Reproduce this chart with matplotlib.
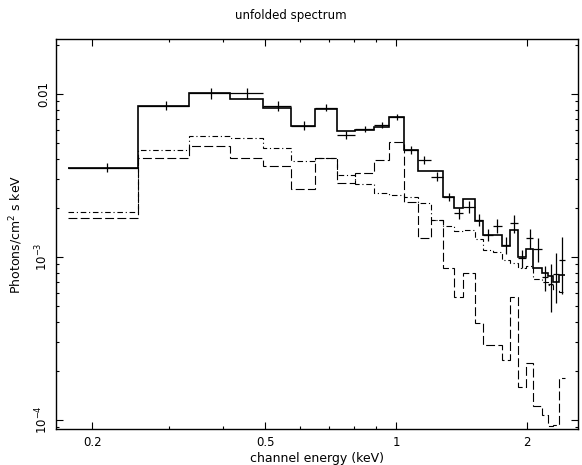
import numpy as np
import matplotlib
matplotlib.use("Agg")
import matplotlib.pyplot as plt
from matplotlib.ticker import NullFormatter, LogLocator

# channel bin edges (keV)
edges = [0.1762, 0.2552, 0.3343, 0.4153, 0.4945, 0.5736, 0.6512, 0.7306,
         0.8050, 0.8901, 0.9636, 1.0433, 1.1217, 1.2015, 1.2845, 1.3594,
         1.4279, 1.5190, 1.5873, 1.6665, 1.7498, 1.8284, 1.9102, 1.9900,
         2.0687, 2.1627, 2.2362, 2.2961, 2.3703, 2.4468]

# unfolded data (photons/cm^2/s/keV) and 1-sigma errors
data = [3.53e-3, 8.48e-3, 1.007e-2, 1.007e-2, 8.44e-3, 6.39e-3, 8.24e-3,
        5.60e-3, 6.10e-3, 6.45e-3, 7.20e-3, 4.53e-3, 3.94e-3, 3.11e-3,
        2.34e-3, 1.853e-3, 2.035e-3, 1.687e-3, 1.365e-3, 1.556e-3,
        1.185e-3, 1.609e-3, 9.82e-4, 1.302e-3, 1.12e-3, 7.5e-4, 6.8e-4,
        7.9e-4, 9.6e-4]
err = [0.22e-3, 0.5e-3, 0.78e-3, 0.8e-3, 0.55e-3, 0.38e-3, 0.44e-3,
       0.3e-3, 0.26e-3, 0.3e-3, 0.28e-3, 0.25e-3, 0.2e-3, 0.2e-3,
       0.14e-3, 0.145e-3, 0.17e-3, 0.15e-3, 0.11e-3, 0.145e-3,
       0.14e-3, 0.2e-3, 1.25e-4, 0.18e-3, 0.19e-3, 1.3e-4, 2.2e-4,
       2.7e-4, 3.7e-4]

# total model
model = [3.531e-3, 8.48e-3, 1.018e-2, 9.28e-3, 8.24e-3, 6.39e-3, 8.09e-3,
         5.93e-3, 6.01e-3, 6.30e-3, 7.26e-3, 4.53e-3, 3.37e-3, 3.37e-3,
         2.34e-3, 1.99e-3, 2.26e-3, 1.67e-3, 1.365e-3, 1.365e-3,
         1.168e-3, 1.464e-3, 9.96e-4, 1.115e-3, 8.52e-4, 7.94e-4, 7.64e-4,
         7.06e-4, 7.75e-4]

# thermal component (long dashes)
comp_a = [1.742e-3, 4.05e-3, 4.80e-3, 4.03e-3, 3.63e-3, 2.60e-3, 4.03e-3,
          2.86e-3, 3.28e-3, 3.94e-3, 5.10e-3, 2.18e-3, 1.30e-3, 1.687e-3,
          8.52e-4, 5.71e-4, 7.94e-4, 3.92e-4, 2.88e-4, 2.88e-4,
          2.33e-4, 5.71e-4, 1.60e-4, 2.23e-4, 1.21e-4, 1.07e-4, 9.2e-5,
          9.3e-5, 1.82e-4]

# power-law component (dash-dot)
comp_b = [1.896e-3, 4.53e-3, 5.55e-3, 5.35e-3, 4.64e-3, 3.90e-3, 4.05e-3,
          3.18e-3, 2.80e-3, 2.48e-3, 2.40e-3, 2.33e-3, 2.15e-3, 1.687e-3,
          1.55e-3, 1.44e-3, 1.464e-3, 1.29e-3, 1.104e-3, 1.073e-3,
          9.58e-4, 9.19e-4, 8.56e-4, 8.81e-4, 7.33e-4, 7.03e-4, 6.73e-4,
          6.27e-4, 6.10e-4]

edges = np.array(edges)
lo, hi = edges[:-1], edges[1:]
centers = (lo + hi) / 2

plt.rcParams['font.family'] = ['DejaVu Sans']
fig = plt.figure(figsize=(5.82, 4.65), dpi=100)
ax = fig.add_axes([0.0962, 0.0774, 0.8970, 0.8387])

ax.stairs(comp_a, edges, baseline=None, color='k', lw=0.8,
          linestyle=(0, (8, 3)))
ax.stairs(comp_b, edges, baseline=None, color='k', lw=0.8,
          linestyle=(0, (5, 2.5, 1, 2.5)))
ax.stairs(model, edges, baseline=None, color='k', lw=1.2)
ax.errorbar(centers, data, xerr=[centers - lo, hi - centers], yerr=err,
            fmt='none', ecolor='k', elinewidth=0.9, capsize=0)

ax.set_xscale('log')
ax.set_yscale('log')
ax.set_xlim(0.165, 2.62)
ax.set_ylim(8.8e-5, 0.0217)

ax.set_xticks([0.2, 0.5, 1, 2], ['0.2', '0.5', '1', '2'])
ax.xaxis.set_minor_locator(LogLocator(base=10, subs=np.arange(1, 10)))
ax.xaxis.set_minor_formatter(NullFormatter())
ax.set_yticks([1e-4, 1e-3, 1e-2], ['10$^{-4}$', '10$^{-3}$', '0.01'])
ax.yaxis.set_minor_formatter(NullFormatter())
for lab in ax.get_yticklabels():
    lab.set_rotation(90)
    lab.set_va('center')

ax.tick_params(which='both', direction='in', top=True, right=True,
               labelsize=8.5, width=0.8)
ax.tick_params(which='major', length=5, pad=5)
ax.tick_params(which='minor', length=2.5)
ax.tick_params(axis='y', pad=4)
for s in ax.spines.values():
    s.set_linewidth(1.0)

ax.set_xlabel('channel energy (keV)', fontsize=9, labelpad=2)
ax.set_ylabel('Photons/cm$^2$ s keV', fontsize=9, labelpad=6)
fig.text(0.5, 1 - 15 / 465, 'unfolded spectrum', ha='center', va='center',
         fontsize=8.5)

fig.savefig('out.png', dpi=100)
